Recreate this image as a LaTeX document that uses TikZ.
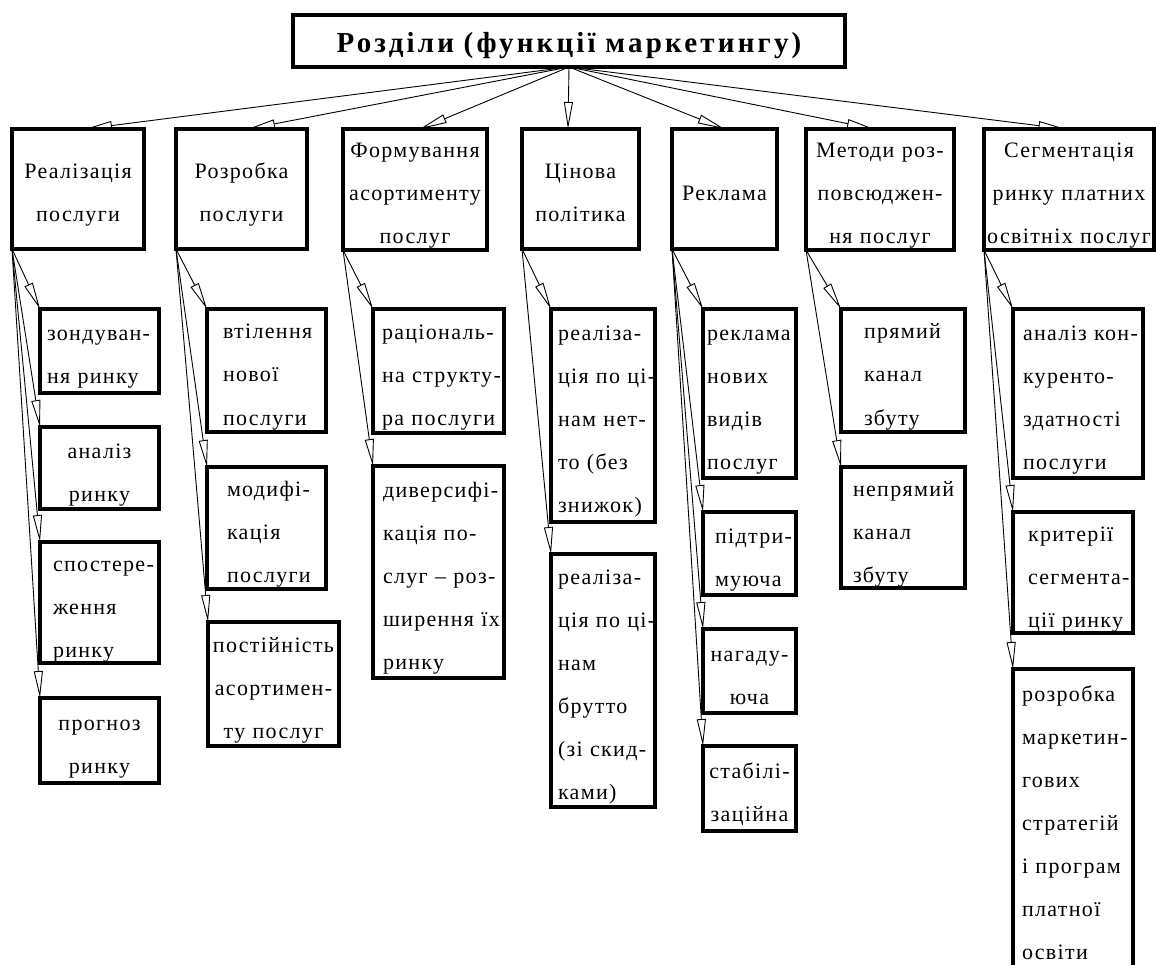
\documentclass[tikz,border=0pt]{standalone}
\usepackage{fontspec}
\setmainfont{Liberation Serif}
\newfontfamily\boxf[LetterSpace=6]{Liberation Serif}
\newfontfamily\titlef[LetterSpace=11]{Liberation Serif}
\usetikzlibrary{arrows.meta}
\newcommand\topstrut{\rule[-6pt]{0pt}{35pt}}
\newcommand\mystrut{\rule[-6pt]{0pt}{28pt}}
\newcommand\lnx[1]{\mbox{#1}}
\tikzset{
  base/.style={draw, line width=3.2pt, anchor=north west, outer sep=0pt, inner ysep=0pt,
    font=\boxf\fontsize{22}{43}\selectfont,
    execute at begin node=\topstrut, execute at end node=\mystrut},
  lb/.style n args={3}{base, align=left, text width=#1pt, inner xsep=#2pt, minimum height=#3pt},
  cb/.style n args={3}{base, align=center, text width=#1pt, inner xsep=#2pt, minimum height=#3pt},
  arr/.style={-{Triangle[open, length=27pt, width=9pt]}, line width=0.9pt},
}
\begin{document}
\begin{tikzpicture}[x=1pt,y=-1pt]
\useasboundingbox (0,0) rectangle (1156,965);
% title
\node[cb={548}{2}{52}, font=\titlef\bfseries\fontsize{29}{34}\selectfont, line width=3.5pt] (T) at (293,15) {\lnx{Розділи (функції маркетингу)}};
% second row
\node[cb={128}{2}{120}] (A) at (12,129) {\lnx{Реалізація}\\\lnx{послуги}};
\node[cb={127}{2}{120}] (B) at (176,129) {\lnx{Розробка}\\\lnx{послуги}};
\node[cb={140}{2}{120}] (C) at (343,129) {\lnx{Формування}\\\lnx{асортименту}\\\lnx{послуг}};
\node[cb={113}{2}{120}] (D) at (522,129) {\lnx{Цінова}\\\lnx{політика}};
\node[cb={101}{2}{120}] (E) at (672,129) {\lnx{Реклама}};
\node[cb={144}{2}{120}] (F) at (806,129) {\lnx{Методи роз-}\\\lnx{повсюджен-}\\\lnx{ня послуг}};
\node[cb={166}{2}{120}] (G) at (984,129) {\lnx{Сегментація}\\\lnx{ринку платних}\\\lnx{освітніх послуг}};
% children A
\node[lb={105}{7}{84}] (A1) at (40,309) {\lnx{зондуван-}\\\lnx{ня ринку}};
\node[cb={115}{2}{82}] (A2) at (40,427) {\lnx{аналіз}\\\lnx{ринку}};
\node[lb={93}{13}{121}] (A3) at (40,542) {\lnx{спостере-}\\\lnx{ження}\\\lnx{ринку}};
\node[cb={115}{2}{85}] (A4) at (40,698) {\lnx{прогноз}\\\lnx{ринку}};
% children B
\node[lb={87}{16}{123}] (B1) at (207,309) {\lnx{втілення}\\\lnx{нової}\\\lnx{послуги}};
\node[lb={79}{20}{122}] (B2) at (207,467) {\lnx{модифі-}\\\lnx{кація}\\\lnx{послуги}};
\node[cb={127}{2}{124}] (B3) at (208,622) {\lnx{постійність}\\\lnx{асортимен-}\\\lnx{ту послуг}};
% children C
\node[lb={113}{9}{124}] (C1) at (373,309) {\lnx{раціональ-}\\\lnx{на структу-}\\\lnx{ра послуги}};
\node[lb={111}{10}{212}] (C2) at (373,466) {\lnx{диверсифі-}\\\lnx{кація по-}\\\lnx{слуг – роз-}\\\lnx{ширення їх}\\\lnx{ринку}};
% children D
\node[lb={90}{7}{213}] (D1) at (551,309) {\lnx{реаліза-}\\\lnx{ція по ці-}\\\lnx{нам нет-}\\\lnx{то (без}\\\lnx{знижок)}};
\node[lb={90}{7}{253}] (D2) at (551,554) {\lnx{реаліза-}\\\lnx{ція по ці-}\\\lnx{нам}\\\lnx{брутто}\\\lnx{(зі скид-}\\\lnx{ками)}};
% children E
\node[lb={85}{4}{169}] (E1) at (703,309) {\lnx{реклама}\\\lnx{нових}\\\lnx{видів}\\\lnx{послуг}};
\node[lb={69}{12}{83}] (E2) at (703,512) {\lnx{підтри-}\\\lnx{муюча}};
\node[cb={89}{2}{84}] (E3) at (703,629) {\lnx{нагаду-}\\\lnx{юча}};
\node[cb={89}{2}{85}] (E4) at (703,746) {\lnx{стабілі-}\\\lnx{заційна}};
% children F
\node[lb={78}{23}{123}] (F1) at (841,309) {\lnx{прямий}\\\lnx{канал}\\\lnx{збуту}};
\node[lb={100}{12}{121}] (F2) at (841,467) {\lnx{непрямий}\\\lnx{канал}\\\lnx{збуту}};
% children G
\node[lb={110}{10}{169}] (G1) at (1013,309) {\lnx{аналіз кон-}\\\lnx{куренто-}\\\lnx{здатності}\\\lnx{послуги}};
\node[lb={90}{15}{121}] (G2) at (1013,512) {\lnx{критерії}\\\lnx{сегмента-}\\\lnx{ції ринку}};
\node[lb={102}{9}{300}] (G3) at (1013,669) {\lnx{розробка}\\\lnx{маркетин-}\\\lnx{гових}\\\lnx{стратегій}\\\lnx{і програм}\\\lnx{платної}\\\lnx{освіти}};
% top arrows
\draw[arr] (T.south) -- ([xshift=7pt]A.north);
\draw[arr] (T.south) -- ([xshift=6.5pt]B.north);
\draw[arr] (T.south) -- ([xshift=5pt]C.north);
\draw[arr] (T.south) -- ([xshift=-12.5pt]D.north);
\draw[arr] (T.south) -- (E.north);
\draw[arr] (T.south) -- ([xshift=-6pt]F.north);
\draw[arr] (T.south) -- ([xshift=-3.5pt]G.north);
% child arrows
\foreach \p/\c in {A/A1,A/A2,A/A3,A/A4,B/B1,B/B2,B/B3,C/C1,C/C2,D/D1,D/D2,E/E1,E/E2,E/E3,E/E4,F/F1,F/F2,G/G1,G/G2,G/G3}
  \draw[arr] (\p.south west) -- (\c.north west);
\end{tikzpicture}
\end{document}
